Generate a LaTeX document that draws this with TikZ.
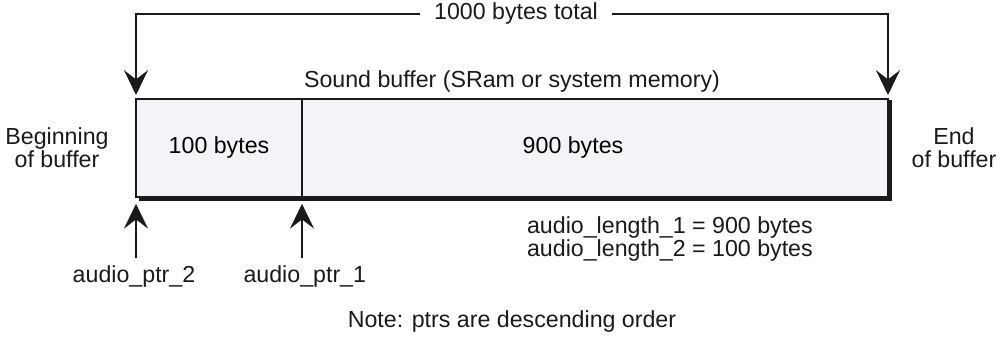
\documentclass[tikz,border=0pt]{standalone}
\usepackage{xcolor}
\usepackage{fontspec}
\setmainfont{Liberation Sans}
\usepackage{tikz}
\usetikzlibrary{arrows.meta,positioning,calc,backgrounds}
\definecolor{softgray}{HTML}{F2F4F7}
\definecolor{linegray}{HTML}{1A1A1A}
\tikzset{
  label/.style={font=\fontsize{16.5}{19.5}\selectfont, text=linegray, align=center, inner sep=2pt},
  segment/.style={draw=linegray, line width=0.9pt, fill=softgray, minimum height=2.45cm, inner sep=0pt, outer sep=0pt, font=\fontsize{16.5}{19.5}\selectfont},
  arrow/.style={-{Stealth[length=6.2mm, width=6mm, inset=2.3mm]}, line width=1.3pt, draw=linegray}
}
\begin{document}
\begin{tikzpicture}
  \useasboundingbox (0,0) rectangle (25.05,8.975);

  % buffer segments
  \node[segment, minimum width=4.15cm] (seg1) at (5.475,5.275) {100 bytes};
  \node[segment, minimum width=14.65cm, right=0pt of seg1] (seg2) {\hspace*{-1.1cm}900 bytes};
  \draw[linegray, line width=1.4pt] (seg1.north west) rectangle (seg2.south east);
  \begin{scope}[on background layer]
    \fill[linegray] ($(seg1.north west)+(0.08,-0.02)$) rectangle ($(seg2.south east)+(0.09,-0.1)$);
  \end{scope}

  \node[label] (title) at (12.8,6.925) {Sound buffer (SRam or system memory)};
  \node[label] (begin) at (1.425,5.275) {Beginning\\[-3pt]of buffer};
  \node[label] (end) at (23.85,5.275) {End\\[-3pt]of buffer};

  % total size bracket
  \node[label, inner xsep=0.35cm] (total) at (12.9,8.625) {1000 bytes total};
  \draw[arrow] (total.west) -| ($(seg1.north west)+(0,0.1)$);
  \draw[arrow] (total.east) -| ($(seg2.north east)+(0,0.1)$);

  % pointers
  \node[label] (ptr2) at (3.35,2.05) {audio\_ptr\_2};
  \node[label] (ptr1) at (7.62,2.05) {audio\_ptr\_1};
  \draw[arrow] (ptr2.north -| seg1.south west) ++(0,0.12) -- ($(seg1.south west)+(0,-0.17)$);
  \draw[arrow] (ptr1.north -| seg2.south west) ++(0,0.12) -- ($(seg2.south west)+(0,-0.17)$);

  \node[label, align=left, anchor=west] (lengths) at (13.1,2.99) {audio\_length\_1 = 900 bytes\\[-3pt]audio\_length\_2 = 100 bytes};
  \node[label] (note) at (12.8,0.925) {Note: ptrs are descending order};
\end{tikzpicture}
\end{document}
